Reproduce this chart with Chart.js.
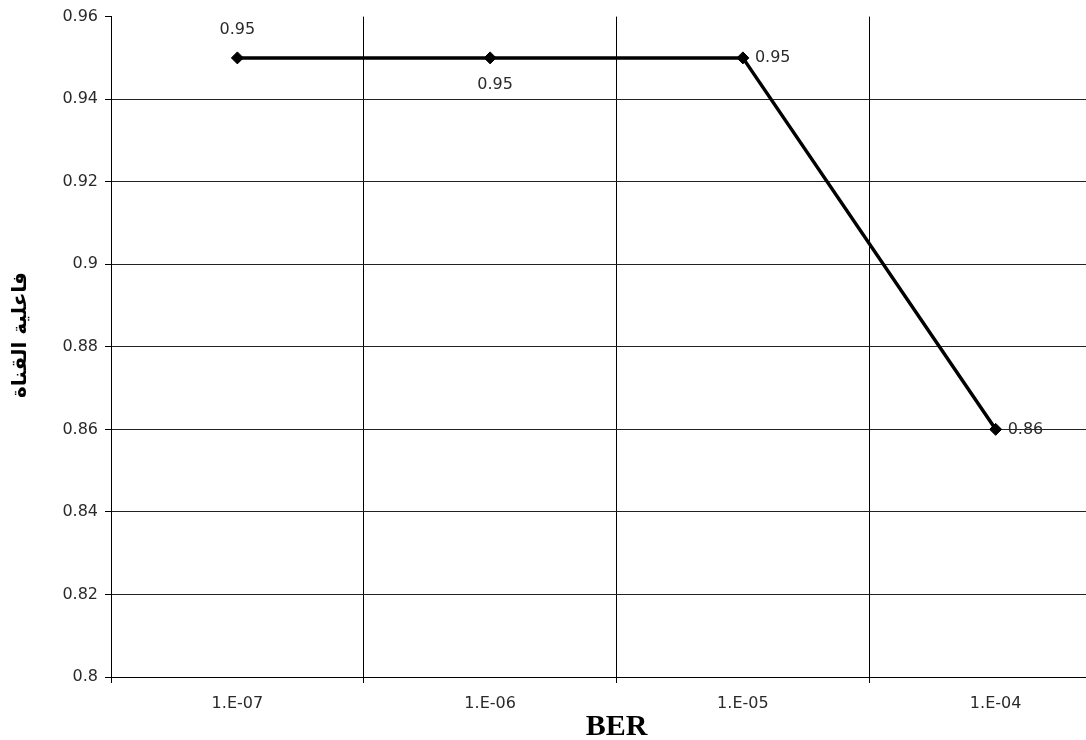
<!DOCTYPE html>
<html lang="ar">
  <head>
    <meta charset="utf-8" />
    <title>BER</title>
    <style>
      * {
        margin: 0;
        padding: 0;
      }
      body {
        background: white;
        overflow: hidden;
        width: 1086px;
        height: 740px;
      }
    </style>
  </head>
  <body>
    <canvas id="myChart" width="1130" height="740"></canvas>

    <script src="https://cdn.jsdelivr.net/npm/chart.js@4/dist/chart.umd.min.js"></script>

    <script>
      // data block
      const categories = ["1.E-07", "1.E-06", "1.E-05", "1.E-04"];
      const efficiency = [0.95, 0.95, 0.95, 0.86];
      const yTitle = "فاعلية القناة";
      const xTitle = "BER";

      const tickFont = { family: "DejaVu Sans, sans-serif", size: 16 };

      // where each value label sits relative to its point
      const labelSpots = [
        { dx: 0, dy: -28, align: "center" },
        { dx: 5, dy: 27, align: "center" },
        { dx: 12, dy: 0, align: "left" },
        { dx: 12, dy: 0, align: "left" },
      ];

      const extraText = {
        id: "extraText",
        afterDatasetsDraw(chart) {
          const { ctx, chartArea } = chart;
          const meta = chart.getDatasetMeta(0);
          ctx.save();
          ctx.font = "16px DejaVu Sans, sans-serif";
          ctx.fillStyle = "#2a2a2a";
          ctx.textBaseline = "middle";
          meta.data.forEach((pt, i) => {
            const spot = labelSpots[i];
            ctx.textAlign = spot.align;
            ctx.fillText(String(efficiency[i]), pt.x + spot.dx, pt.y + spot.dy);
          });

          // x axis title
          ctx.font = "bold 30px Liberation Serif, Times New Roman, serif";
          ctx.fillStyle = "#000";
          ctx.textAlign = "center";
          ctx.textBaseline = "alphabetic";
          ctx.fillText(xTitle, (chartArea.left + chartArea.right) / 2, 735);

          // y axis title, rotated
          ctx.translate(21, 335);
          ctx.rotate(-Math.PI / 2);
          ctx.font = "bold 20px DejaVu Sans, sans-serif";
          ctx.textBaseline = "middle";
          ctx.fillText(yTitle, 0, 0);
          ctx.restore();
        },
      };

      const data = {
        labels: categories,
        datasets: [
          {
            data: efficiency,
            borderColor: "#000",
            backgroundColor: "#000",
            borderWidth: 3.5,
            pointStyle: "rectRot",
            pointRadius: 6,
            pointBorderWidth: 1,
            tension: 0,
          },
        ],
      };

      // config block
      const config = {
        type: "line",
        data: data,
        options: {
          responsive: false,
          animation: false,
          layout: { padding: { top: 16, right: 8, left: 0, bottom: 0 } },
          plugins: {
            legend: { display: false },
            tooltip: { enabled: false },
          },
          scales: {
            x: {
              offset: true,
              grid: {
                offset: true,
                color: "#000",
                tickColor: "#000",
                tickLength: 6,
              },
              border: { color: "#000", width: 1 },
              ticks: { color: "#2a2a2a", font: tickFont, padding: 11, maxRotation: 0 },
              afterFit: (s) => {
                s.height = 63;
              },
            },
            y: {
              min: 0.8,
              max: 0.96,
              grid: {
                color: (c) => (c.tick && c.tick.value >= 0.959 ? "rgba(0,0,0,0)" : "#222"),
                tickColor: "#000",
                tickLength: 6,
              },
              border: { color: "#000", width: 1 },
              ticks: {
                stepSize: 0.02,
                color: "#2a2a2a",
                font: tickFont,
                padding: 7,
                callback: (v) => String(+v.toFixed(2)),
              },
              afterFit: (s) => {
                s.width = 111;
              },
            },
          },
        },
        plugins: [extraText],
      };

      // init render block
      const myChart = new Chart(document.getElementById("myChart"), config);
    </script>
  </body>
</html>
